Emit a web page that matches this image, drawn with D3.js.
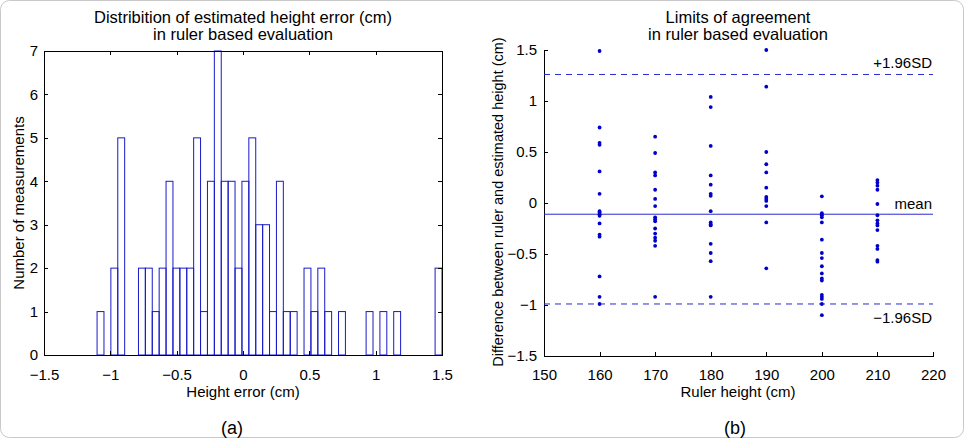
<!DOCTYPE html>
<html lang="en">
<head>
<meta charset="UTF-8">
<title>Height error distribution and limits of agreement</title>
<script src="https://cdnjs.cloudflare.com/ajax/libs/d3/7.8.5/d3.min.js"></script>
<style>
    body {
        margin: 0;
        background: #fff;
        font-family: 'Liberation Sans', Arial, Helvetica, sans-serif;
    }
    svg text {
        font-family: 'Liberation Sans', Arial, Helvetica, sans-serif;
        fill: #000;
    }
    .axis path, .axis line {
        stroke: #000;
        shape-rendering: crispEdges;
    }
    .axis text {
        font-size: 15px;
    }
    .lbl {
        font-size: 15px;
    }
    .ttl {
        font-size: 16.5px;
    }
</style>
</head>
<body>
<div id="chart"></div>

<script>
// Histogram (a): equal-width bins between the two limits
const histRange = [-1.1, 1.5];
const histCounts = [1, 0, 2, 5, 0, 0, 2, 2, 1, 2,
                    4, 2, 2, 2, 5, 1, 4, 7, 4, 4,
                    2, 4, 5, 3, 3, 1, 4, 1, 1, 0,
                    2, 1, 2, 1, 0, 1, 0, 0, 0, 1,
                    0, 1, 0, 1, 0, 0, 0, 0, 0, 2];
const histXTicks = [-1.5, -1, -0.5, 0, 0.5, 1, 1.5];
const histYTicks = [0, 1, 2, 3, 4, 5, 6, 7];

// Bland-Altman (b): differences per ruler height
const rulerHeights = [160, 170, 180, 190, 200, 210];
const diff160 = [1.49, 0.74, 0.59, 0.57, 0.31, 0.09, -0.08, -0.095, -0.11, -0.125, -0.2, -0.31, -0.33, -0.72, -0.92, -0.99];
const diff170 = [0.65, 0.49, 0.3, 0.27, 0.13, 0.04, -0.03, -0.14, -0.16, -0.18, -0.25, -0.3, -0.34, -0.37, -0.42, -0.92];
const diff180 = [1.04, 0.94, 0.56, 0.27, 0.18, 0.09, 0.07, -0.08, -0.19, -0.21, -0.22, -0.4, -0.49, -0.57, -0.92];
const diff190 = [1.5, 1.14, 0.5, 0.38, 0.3, 0.15, 0.06, 0.04, 0.02, -0.03, -0.19, -0.64];
const diff200 = [0.065, -0.1, -0.12, -0.14, -0.19, -0.36, -0.49, -0.54, -0.62, -0.69, -0.74, -0.76, -0.9, -0.92, -0.94, -0.99, -1.1];
const diff210 = [0.225, 0.2, 0.17, 0.13, -0.01, -0.12, -0.17, -0.2, -0.22, -0.265, -0.42, -0.45, -0.56, -0.575];
const diffsByHeight = [diff160, diff170, diff180, diff190, diff200, diff210];
const meanDiff = -0.11;
const upperLimit = 1.26;
const lowerLimit = -0.99;
const baXTicks = [150, 160, 170, 180, 190, 200, 210, 220];
const baYTicks = [-1.5, -1, -0.5, 0, 0.5, 1, 1.5];

const W = 964, H = 438;
const blue = "#1a1ac8";
const fmt = d => String(d).replace("-", "\u2212");

const svg = d3.select("#chart").append("svg")
    .attr("width", W)
    .attr("height", H);

// outer frame
svg.append("rect")
    .attr("x", 0.5).attr("y", 0.5)
    .attr("width", W - 1).attr("height", H - 1)
    .attr("rx", 9)
    .attr("fill", "none")
    .attr("stroke", "#c8c8c8");

// ---------- (a) histogram ----------
const hx = d3.scaleLinear().domain([-1.5, 1.5]).range([44, 442]);
const hy = d3.scaleLinear().domain([0, 7]).range([355, 51]);
const gA = svg.append("g");

const binW = (histRange[1] - histRange[0]) / histCounts.length;
gA.selectAll("rect.bar")
    .data(histCounts)
    .enter().append("rect")
    .attr("class", "bar")
    .attr("x", (d, i) => hx(histRange[0] + i * binW))
    .attr("width", (d, i) => hx(histRange[0] + (i + 1) * binW) - hx(histRange[0] + i * binW))
    .attr("y", d => hy(d))
    .attr("height", d => hy(0) - hy(d))
    .attr("fill", "none")
    .attr("stroke", blue)
    .attr("stroke-width", 1);

gA.append("g").attr("class", "axis")
    .attr("transform", `translate(0,${hy(0)})`)
    .call(d3.axisBottom(hx).tickValues(histXTicks).tickFormat(fmt).tickSizeInner(-4).tickSizeOuter(0).tickPadding(14));
gA.append("g").attr("class", "axis")
    .attr("transform", `translate(0,${hy(7)})`)
    .call(d3.axisTop(hx).tickValues(histXTicks).tickFormat("").tickSizeInner(-4).tickSizeOuter(0));
gA.append("g").attr("class", "axis")
    .attr("transform", `translate(${hx(-1.5)},0)`)
    .call(d3.axisLeft(hy).tickValues(histYTicks).tickFormat(fmt).tickSizeInner(-4).tickSizeOuter(0).tickPadding(6));
gA.append("g").attr("class", "axis")
    .attr("transform", `translate(${hx(1.5)},0)`)
    .call(d3.axisRight(hy).tickValues(histYTicks).tickFormat("").tickSizeInner(-4).tickSizeOuter(0));

gA.append("text").attr("class", "ttl").attr("x", 243).attr("y", 23).attr("text-anchor", "middle")
    .text("Distribition of estimated height error (cm)");
gA.append("text").attr("class", "ttl").attr("x", 243).attr("y", 40).attr("text-anchor", "middle")
    .text("in ruler based evaluation");
gA.append("text").attr("class", "lbl").attr("x", 243).attr("y", 397).attr("text-anchor", "middle")
    .text("Height error (cm)");
gA.append("text").attr("class", "lbl").attr("transform", "translate(24,203) rotate(-90)").attr("text-anchor", "middle")
    .text("Number of measurements");
gA.append("text").attr("x", 232).attr("y", 434).attr("text-anchor", "middle")
    .style("font-size", "18px").text("(a)");

// ---------- (b) limits of agreement ----------
const bx = d3.scaleLinear().domain([150, 220]).range([544, 933]);
const by = d3.scaleLinear().domain([-1.5, 1.5]).range([356, 50]);
const gB = svg.append("g");

gB.append("g").attr("class", "axis")
    .attr("transform", `translate(0,${by(-1.5)})`)
    .call(d3.axisBottom(bx).tickValues(baXTicks).tickFormat(fmt).tickSizeInner(-4).tickSizeOuter(0).tickPadding(13));
gB.append("g").attr("class", "axis")
    .attr("transform", `translate(${bx(150)},0)`)
    .call(d3.axisLeft(by).tickValues(baYTicks).tickFormat(fmt).tickSizeInner(-4).tickSizeOuter(0).tickPadding(7));

// reference lines
[[upperLimit, "6,5"], [meanDiff, null], [lowerLimit, "6,5"]].forEach(([v, dash]) => {
    gB.append("line")
        .attr("x1", bx(150)).attr("x2", bx(220))
        .attr("y1", by(v)).attr("y2", by(v))
        .attr("stroke", "#2a2ad0")
        .attr("stroke-width", 1)
        .attr("stroke-dasharray", dash);
});

const pts = [];
rulerHeights.forEach((h, i) => diffsByHeight[i].forEach(v => pts.push({ h, v })));
gB.selectAll("circle")
    .data(pts)
    .enter().append("circle")
    .attr("cx", d => bx(d.h))
    .attr("cy", d => by(d.v))
    .attr("r", 1.9)
    .attr("fill", "#0000c8");

gB.append("text").attr("class", "lbl").attr("x", 932).attr("y", by(upperLimit) - 6).attr("text-anchor", "end")
    .text("+1.96SD");
gB.append("text").attr("class", "lbl").attr("x", 932).attr("y", by(meanDiff) - 5).attr("text-anchor", "end")
    .text("mean");
gB.append("text").attr("class", "lbl").attr("x", 932).attr("y", by(lowerLimit) + 19).attr("text-anchor", "end")
    .text("\u22121.96SD");

gB.append("text").attr("class", "ttl").attr("x", 738).attr("y", 23).attr("text-anchor", "middle")
    .text("Limits of agreement");
gB.append("text").attr("class", "ttl").attr("x", 738).attr("y", 40).attr("text-anchor", "middle")
    .text("in ruler based evaluation");
gB.append("text").attr("class", "lbl").attr("x", 738).attr("y", 397).attr("text-anchor", "middle")
    .text("Ruler height (cm)");
gB.append("text").attr("class", "lbl").attr("transform", "translate(503,202) rotate(-90)").attr("text-anchor", "middle")
    .style("font-size", "14.5px")
    .text("Difference between ruler and estimated height (cm)");
gB.append("text").attr("x", 735).attr("y", 434).attr("text-anchor", "middle")
    .style("font-size", "18px").text("(b)");
</script>
</body>
</html>
